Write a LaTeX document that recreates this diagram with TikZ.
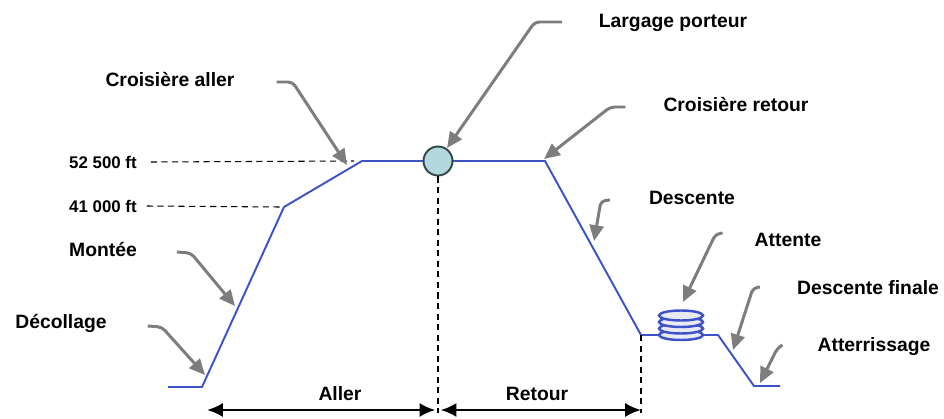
\documentclass[tikz,border=0pt]{standalone}
\usepackage{fontspec}
\setmainfont{Liberation Sans}
\usetikzlibrary{arrows.meta,calc,positioning}
\definecolor{profilbleu}{RGB}{62,82,200}
\definecolor{flechegris}{RGB}{125,125,125}
\definecolor{largage}{RGB}{178,216,222}
\definecolor{largagebord}{RGB}{50,72,72}
\tikzset{every node/.style={font=\bfseries\fontsize{11}{13}\selectfont, inner sep=1pt},
  profil/.style={draw=profilbleu, line width=1.1pt},
  fleche/.style={draw=flechegris, line width=1.7pt, rounded corners=2.5pt, -{Triangle[length=9pt,width=8pt]}},
  repere/.style={dash pattern=on 3.5pt off 2.5pt, line width=0.6pt},
  cote/.style={line width=1.4pt, {Latex[length=9pt,width=8pt]}-{Latex[length=9pt,width=8pt]}},
  altitude/.style={font=\bfseries\fontsize{9.6}{12}\selectfont}}

\begin{document}
\begin{tikzpicture}[x=0.02cm,y=-0.02cm]
  \useasboundingbox (0,0) rectangle (944,419);
  % profil de vol
  \coordinate (p0) at (168,387);
  \coordinate (p1) at (202,387);
  \coordinate (p2) at (284,207);
  \coordinate (p3) at (362,161);
  \coordinate (p4) at (545,161);
  \coordinate (p5) at (641,335);
  \coordinate (p6) at (718,335);
  \coordinate (p7) at (754,386);
  \coordinate (p8) at (780,386);
  \draw[profil] (p0) -- (p1) -- (p2) -- (p3) -- (p4) -- (p5) -- (p6) -- (p7) -- (p8);
  % attente
  \coordinate (attente) at (681,325);
  \foreach \k in {0,...,3}
    \draw[profil, fill=profilbleu!12, line width=1.4pt] ($(attente)+(0,10-6.5*\k)$) ellipse [x radius=22, y radius=5];
  % largage
  \node[circle, draw=largagebord, fill=largage, line width=1.1pt, minimum size=0.58cm, inner sep=0] (lp) at (438,161) {};
  % altitudes
  \node[altitude] (z52) at (103,162) {52 500 ft};
  \node[altitude] (z41) at (103,206) {41 000 ft};
  \draw[repere] ($(z52.east)+(12,0)$) -- ($(p3)+(-8,0)$);
  \draw[repere] ($(z41.east)+(8,0)$) -- ($(p2)+(-4,0)$);
  % aller / retour
  \coordinate (b0) at (207,410);
  \coordinate (b1) at (438,410);
  \coordinate (b2) at (641,410);
  \draw[repere] (lp.south) -- ($(b1)+(0,3)$);
  \draw[repere] (p5) -- ($(b2)+(0,3)$);
  \draw[cote, shorten >=1.5pt] (b0) -- (b1);
  \draw[cote, shorten <=1.5pt] (b1) -- (b2);
  \node (aller) at (340,394) {Aller};
  \node (retour) at (537,394) {Retour};
  % etiquettes
  \node (ca) at (170,80) {Croisière aller};
  \node (lg) at (673,23) {Largage porteur};
  \node (cr) at (736,105) {Croisière retour};
  \node (de) at (692,198) {Descente};
  \node (at) at (788,240) {Attente};
  \node (df) at (868,288) {Descente finale};
  \node (ar) at (874,347) {Atterrissage};
  \node (mo) at (103,250) {Montée};
  \node (dc) at (61,323) {Décollage};
  \coordinate (t-ca) at (347,165);
  \coordinate (t-lg) at (447,148);
  \coordinate (t-cr) at (544,159);
  \coordinate (t-de) at (594,241);
  \coordinate (t-at) at (683,302);
  \coordinate (t-df) at (733,350);
  \coordinate (t-ar) at (760,383);
  \coordinate (t-mo) at (235,306);
  \coordinate (t-dc) at (205,375);
  \draw[fleche] ($(ca.east)+(40,2)$) -- ++(16,0) -- (t-ca);
  \draw[fleche] ($(lg.west)+(-35,-1)$) -- ++(-27,0) -- (t-lg);
  \draw[fleche] ($(cr.west)+(-36,2)$) -- ++(-15,0) -- (t-cr);
  \draw[fleche] ($(de.west)+(-37,2)$) -- ++(-9,1) -- (t-de);
  \draw[fleche] ($(at.west)+(-30,-7)$) -- ++(-7,1) -- (t-at);
  \draw[fleche] ($(df.west)+(-35,-1)$) -- ++(-7,1) -- (t-df);
  \draw[fleche] ($(ar.west)+(-33,-2)$) -- ++(-5,3) -- (t-ar);
  \draw[fleche] ($(mo.east)+(38,2)$) -- ++(14,1) -- (t-mo);
  \draw[fleche] ($(dc.east)+(39,3)$) -- ++(14,1) -- (t-dc);
\end{tikzpicture}
\end{document}
